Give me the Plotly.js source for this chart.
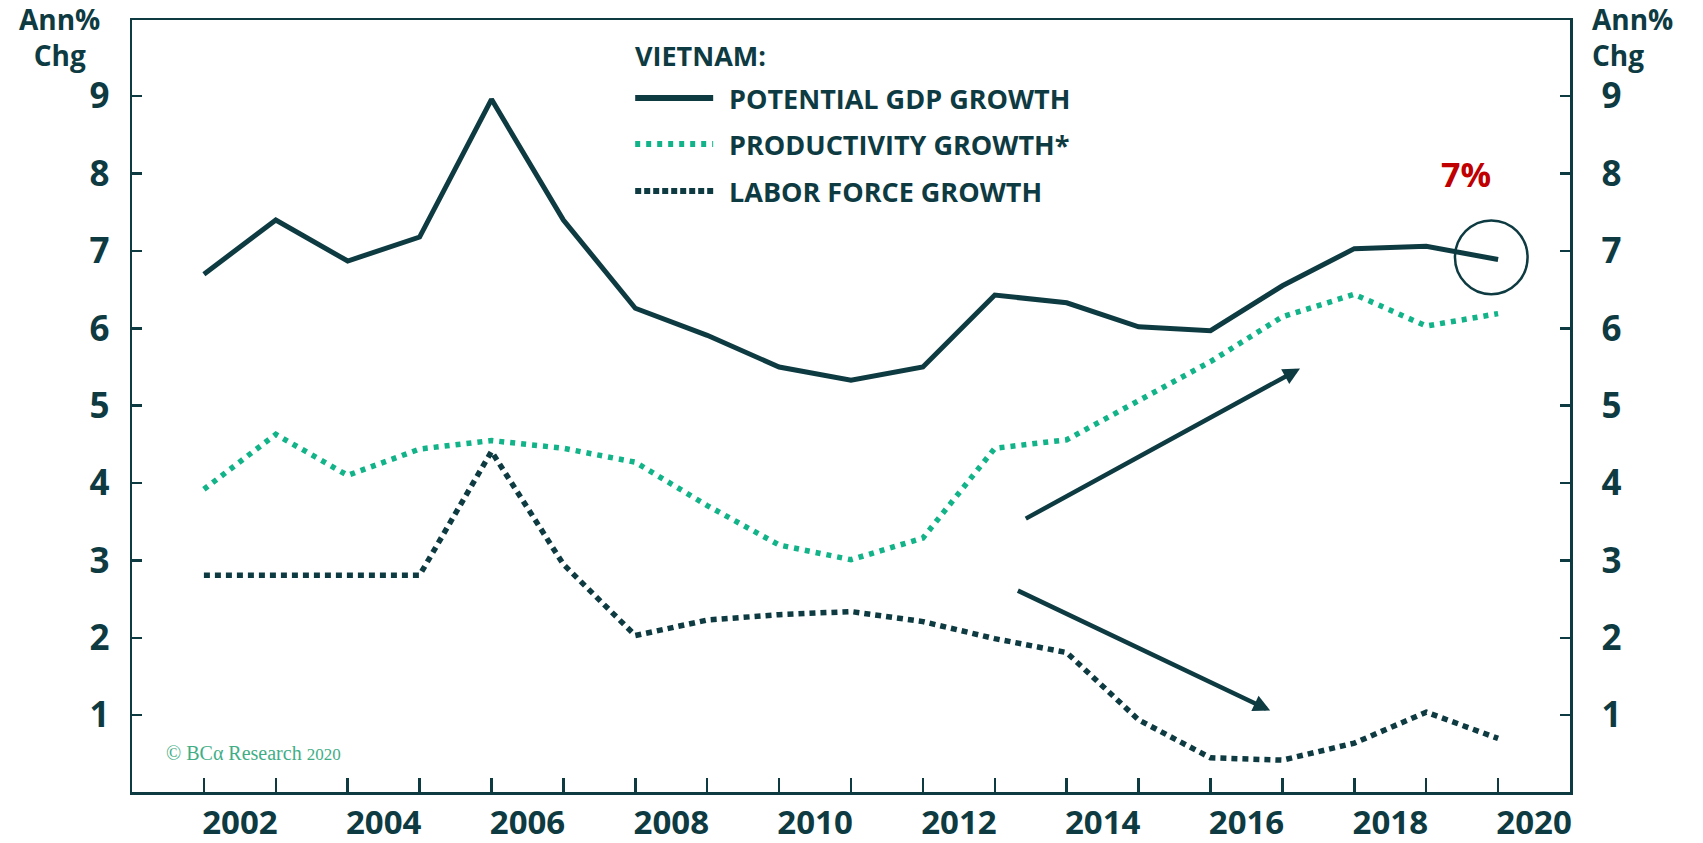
<!DOCTYPE html>
<html>
<head>
<meta charset="utf-8">
<script src="https://cdn.plot.ly/plotly-3.0.1.min.js"></script>
<style>
html,body{margin:0;padding:0;background:#fff;}
#chart{width:1703px;height:843px;}
</style>
</head>
<body>
<div id="chart"></div>
<script>
// ---- data ----
const years = [2002,2003,2004,2005,2006,2007,2008,2009,2010,2011,2012,2013,2014,2015,2016,2017,2018,2019,2020];
const potentialGdp = [6.70,7.40,6.87,7.18,8.96,7.40,6.26,5.91,5.50,5.33,5.50,6.43,6.33,6.02,5.97,6.55,7.03,7.06,6.89];
const productivity = [3.92,4.63,4.10,4.44,4.55,4.45,4.27,3.71,3.20,3.01,3.29,4.45,4.56,5.07,5.57,6.15,6.44,6.03,6.19];
const laborForce  = [2.81,2.81,2.81,2.81,4.41,2.95,2.03,2.23,2.30,2.34,2.21,1.99,1.81,0.94,0.45,0.42,0.64,1.04,0.70];
const xTickLabels = ['2002','2004','2006','2008','2010','2012','2014','2016','2018','2020'];
const yTickVals = [1,2,3,4,5,6,7,8,9];
const seriesNames = ['POTENTIAL GDP GROWTH','PRODUCTIVITY GROWTH*','LABOR FORCE GROWTH'];

// ---- styling ----
const DARK = '#0e3b42';
const GREEN = '#12b388';
const FONT = 'Open Sans, Noto Sans, sans-serif';

const L = 131.7, T = 20, W = 1438.3, H = 771.7;
const px = x => (x - L) / W;
const py = y => (T + H - y) / H;

// year ticks (every year) with labels on the even years, shifted into the middle of the year
const yearTicks = [];
for (let yr = 2001; yr <= 2021; yr++) yearTicks.push(yr);
const yearTickText = yearTicks.map(yr => xTickLabels.includes(String(yr)) ? String(yr) : '');

const traces = [
  {x: years, y: potentialGdp, name: seriesNames[0], type: 'scatter', mode: 'lines',
   line: {color: DARK, width: 5}},
  {x: years, y: productivity, name: seriesNames[1], type: 'scatter', mode: 'lines',
   line: {color: GREEN, width: 5.5, dash: '5px,6px'}},
  {x: years, y: laborForce, name: seriesNames[2], type: 'scatter', mode: 'lines', yaxis: 'y2',
   line: {color: DARK, width: 5.5, dash: '6px,5px'}}
];

const yTickFont = {family: FONT, size: 35, color: DARK, weight: 'bold'};
const xTickFont = {family: FONT, size: 33, color: DARK, weight: 'bold'};
const yRange = [0.008, 9.985];

const legendRows = [
  {y: 98, dash: 'solid', color: DARK, width: 6},
  {y: 144, dash: '5px,6px', color: GREEN, width: 6},
  {y: 191, dash: '6px,3px', color: DARK, width: 6}
];

const shapes = legendRows.map(r => ({
  type: 'line', xref: 'paper', yref: 'paper',
  x0: px(635), x1: px(713), y0: py(r.y), y1: py(r.y),
  line: {color: r.color, width: r.width, dash: r.dash}
}));
// circle around the latest reading
shapes.push({type: 'circle', xref: 'x', yref: 'y',
  x0: 2019.40, x1: 2020.41, y0: 6.44, y1: 7.395,
  line: {color: DARK, width: 2.5}});

const titleFont = {family: FONT, size: 28, color: DARK, weight: 'bold'};
const legendFont = {family: FONT, size: 27, color: DARK, weight: 'bold'};

const annotations = [
  {xref: 'paper', yref: 'paper', x: px(59), y: py(37), text: 'Ann%<br>Chg', showarrow: false,
   xanchor: 'center', yanchor: 'middle', align: 'center', font: titleFont},
  {xref: 'paper', yref: 'paper', x: px(1590), y: py(37), text: 'Ann%<br>Chg', showarrow: false,
   xanchor: 'left', yanchor: 'middle', align: 'left', font: titleFont},
  {xref: 'paper', yref: 'paper', x: px(633), y: py(55), text: 'VIETNAM:', showarrow: false,
   xanchor: 'left', yanchor: 'middle', font: legendFont},
  {xref: 'paper', yref: 'paper', x: px(727), y: py(98), text: seriesNames[0], showarrow: false,
   xanchor: 'left', yanchor: 'middle', font: legendFont},
  {xref: 'paper', yref: 'paper', x: px(727), y: py(144.5), text: seriesNames[1], showarrow: false,
   xanchor: 'left', yanchor: 'middle', font: legendFont},
  {xref: 'paper', yref: 'paper', x: px(727), y: py(191.5), text: seriesNames[2], showarrow: false,
   xanchor: 'left', yanchor: 'middle', font: legendFont},
  {xref: 'x', yref: 'y', x: 2019.556, y: 7.99, text: '7%', showarrow: false,
   xanchor: 'center', yanchor: 'middle', font: {family: FONT, size: 34, color: '#c00000', weight: 'bold'}},
  {xref: 'paper', yref: 'paper', x: px(164), y: py(753), text: '© BCα Research <span style="font-size:17px">2020</span>', showarrow: false,
   xanchor: 'left', yanchor: 'middle', font: {family: 'Liberation Serif, DejaVu Serif, serif', size: 20, color: '#3fae86'}},
  // trend arrows
  {xref: 'x', yref: 'y', axref: 'x', ayref: 'y', x: 2017.245, y: 5.48, ax: 2013.41, ay: 3.53,
   text: '', showarrow: true, arrowhead: 2, arrowsize: 0.75, arrowwidth: 4.5, arrowcolor: DARK},
  {xref: 'x', yref: 'y', axref: 'x', ayref: 'y', x: 2016.83, y: 1.06, ax: 2013.30, ay: 2.62,
   text: '', showarrow: true, arrowhead: 2, arrowsize: 0.75, arrowwidth: 4.5, arrowcolor: DARK}
];

const yCommon = {
  range: yRange, tickmode: 'array', tickvals: yTickVals, ticktext: yTickVals.map(String),
  ticks: 'inside', ticklen: 10, tickwidth: 2.5, tickcolor: DARK,
  showline: true, linewidth: 2.5, linecolor: DARK, showgrid: false, zeroline: false,
  tickfont: yTickFont, ticklabelshift: -10.6, fixedrange: true
};

const layout = {
  width: 1703, height: 843,
  margin: {l: 132, r: 133, t: 20, b: 51, pad: 0},
  paper_bgcolor: '#ffffff', plot_bgcolor: '#ffffff',
  showlegend: false,
  xaxis: {
    type: 'linear', range: [2001, 2021],
    tickmode: 'array', tickvals: yearTicks, ticktext: yearTickText,
    ticks: 'inside', ticklen: 14, tickwidth: 2.5, tickcolor: DARK,
    showline: true, linewidth: 2.5, linecolor: DARK, mirror: true,
    showgrid: false, zeroline: false, tickfont: xTickFont,
    ticklabelshift: 36, ticklabelstandoff: 0, fixedrange: true
  },
  yaxis: Object.assign({}, yCommon, {side: 'left', ticklabelstandoff: 13}),
  yaxis2: Object.assign({}, yCommon, {side: 'right', overlaying: 'y', anchor: 'x', matches: 'y', ticklabelstandoff: 22}),
  shapes: shapes,
  annotations: annotations
};

Plotly.newPlot('chart', traces, layout, {displayModeBar: false, staticPlot: true});
</script>
</body>
</html>
